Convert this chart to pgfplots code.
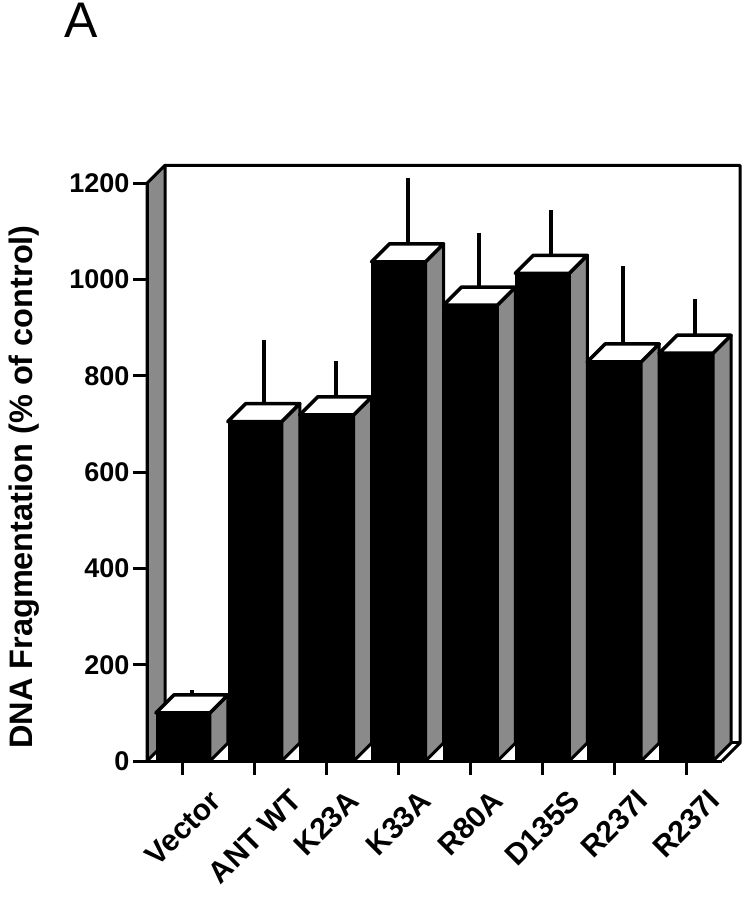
\documentclass[border=0pt]{standalone}
\usepackage{graphicx}
\usepackage{pgfplots}
\pgfplotsset{compat=1.18}
\usepackage{pgfplotstable}
\usepackage{fontspec}
\setmainfont{Liberation Sans}
\setsansfont{Liberation Sans}

% value (% of control) and upper error for each construct
\pgfplotstableread{
x v e
0 100 7
1 705 129
2 719 71
3 1037 134
4 947 110
5 1013 92
6 829 158
7 847 73
}\dnadata

\definecolor{sidegray}{RGB}{138,138,138}
\pgfdeclareplotmark{nothing}{}

\begin{document}
\begin{tikzpicture}
\path (0pt,0pt) rectangle (747pt,899pt);
\node[anchor=base west, inner sep=0pt, font=\fontsize{50}{50}\selectfont] at (64pt,861pt) {A};
\node[rotate=90, anchor=base, inner sep=0pt, font=\bfseries\fontsize{32.5}{33}\selectfont] at (32pt,412pt) {DNA Fragmentation (\% of control)};
\begin{axis}[
  at={(147pt,138pt)}, anchor=south west,
  scale only axis, width=575pt, height=577.7pt,
  xmin=-0.5, xmax=7.5, ymin=0, ymax=1200,
  clip=false, axis on top,
  axis x line*=bottom, axis y line*=left,
  axis line style={line width=3pt, black},
  tick align=outside, major tick length=14pt,
  every tick/.style={line width=3pt, black},
  every error bar/.append style={line width=4pt, black},
  xtick={0,...,7},
  xticklabels={\rotatebox{45}{Vector}, \rotatebox{45}{ANT WT}, \rotatebox{45}{K23A},
    \rotatebox{45}{K33A}, \rotatebox{45}{R80A}, \rotatebox{45}{D135S},
    \rotatebox{45}{R237I}, \rotatebox{45}{R237I}},
  xticklabel style={anchor=north, inner sep=0pt, yshift=-13pt,
    font=\bfseries\fontsize{30}{30}\selectfont},
  ytick={0,200,...,1200},
  /pgf/number format/assume math mode=true,
  /pgf/number format/1000 sep={},
  yticklabel style={font=\bfseries\fontsize{27}{27}\selectfont},
]
% left wall
\filldraw[fill=sidegray, draw=black, line width=3pt, line join=round]
  (rel axis cs:0,0) -- ([shift={(18pt,18pt)}]rel axis cs:0,0) --
  ([shift={(18pt,18pt)}]rel axis cs:0,1) -- (rel axis cs:0,1) -- cycle;
% back wall and floor
\draw[line width=3pt, line join=round]
  ([shift={(18pt,18pt)}]rel axis cs:0,1) -- ([shift={(18pt,18pt)}]rel axis cs:1,1) --
  ([shift={(18pt,18pt)}]rel axis cs:1,0) -- (rel axis cs:1,0);
\draw[line width=3pt] ([shift={(18pt,18pt)}]rel axis cs:0,0) -- ([shift={(18pt,18pt)}]rel axis cs:1,0);

% 3D bars: front face, side face and top face drawn at each data point
\addplot[only marks, mark=nothing, scatter,
  point meta=explicit symbolic,
  scatter/@pre marker code/.code={%
    \pgfmathsetmacro{\hh}{\pgfplotspointmeta*0.48142}%
    \fill[black] (-27pt,0pt) rectangle (27pt,-\hh pt);
    \filldraw[fill=sidegray, draw=black, line width=3pt, line join=round]
      (27pt,0pt) -- (45pt,18pt) -- (45pt,18pt-\hh pt) -- (27pt,-\hh pt) -- cycle;
    \filldraw[fill=white, draw=black, line width=3.5pt, line join=round]
      (-27pt,0pt) -- (27pt,0pt) -- (45pt,18pt) -- (-9pt,18pt) -- cycle;
  },
  scatter/@post marker code/.code={},
] table[x=x, y=v, meta=v] {\dnadata};

% error bars at mid depth of each bar
\addplot[only marks, mark=nothing, xshift=9pt, yshift=9pt, line width=4pt, black,
  error bars/.cd, y dir=plus, y explicit, error mark=-,
  error bar style={line width=4pt, black},
  error mark options={line width=4pt, mark size=10.5pt, black},
] table[x=x, y=v, y error=e] {\dnadata};
\end{axis}
\end{tikzpicture}
\end{document}
